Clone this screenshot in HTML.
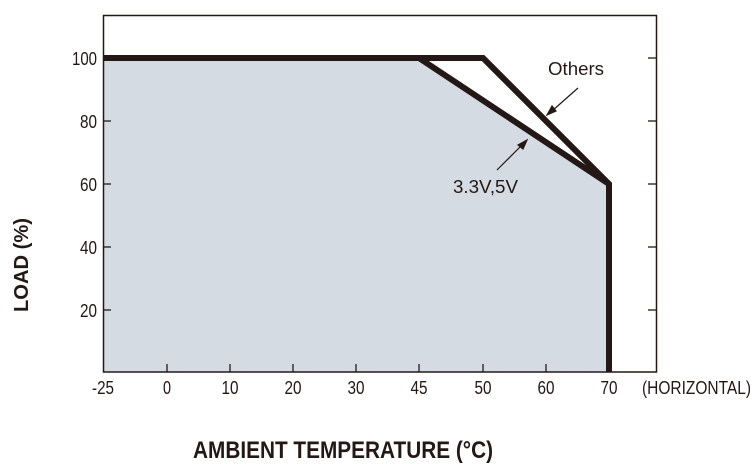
<!DOCTYPE html>
<html><head><style>body{margin:0;background:#fff}svg{display:block}</style></head>
<body>
<svg width="755" height="464" viewBox="0 0 755 464" xmlns="http://www.w3.org/2000/svg" font-family="Liberation Sans, Arial, sans-serif">
<polygon points="103,58 419,58 609,184 609,372 103,372" fill="#d4dbe3"/>
<rect x="103.5" y="15.5" width="553" height="356.5" fill="none" stroke="#231815" stroke-width="1.5"/>
<g stroke="#231815" stroke-width="1.3">
<line x1="103" y1="121" x2="111" y2="121"/><line x1="103" y1="184" x2="111" y2="184"/><line x1="103" y1="247" x2="111" y2="247"/><line x1="103" y1="310" x2="111" y2="310"/>
<line x1="648" y1="58" x2="657" y2="58"/><line x1="648" y1="121" x2="657" y2="121"/><line x1="648" y1="184" x2="657" y2="184"/><line x1="648" y1="247" x2="657" y2="247"/><line x1="648" y1="310" x2="657" y2="310"/>
<line x1="167" y1="364" x2="167" y2="372"/><line x1="230" y1="364" x2="230" y2="372"/><line x1="293" y1="364" x2="293" y2="372"/><line x1="356" y1="364" x2="356" y2="372"/><line x1="419" y1="364" x2="419" y2="372"/><line x1="483" y1="364" x2="483" y2="372"/><line x1="546" y1="364" x2="546" y2="372"/>
</g>
<polyline points="103,58 483,58 609,184 609,372" fill="none" stroke="#231815" stroke-width="6" stroke-linejoin="miter"/>
<polyline points="103,58 419,58 609,184" fill="none" stroke="#231815" stroke-width="6"/>
<g stroke="#231815" stroke-width="1.2" fill="#231815">
<line x1="578" y1="88" x2="552" y2="111"/><polygon points="547,115 552,106 556,111"/>
<line x1="497" y1="170" x2="522" y2="145"/><polygon points="527,140 523,149 518,145"/>
</g>
<g font-size="18" fill="#231815" lengthAdjust="spacingAndGlyphs">
<text x="548" y="75" textLength="56" lengthAdjust="spacingAndGlyphs">Others</text>
<text x="453" y="193" textLength="65" lengthAdjust="spacingAndGlyphs">3.3V,5V</text>
<g text-anchor="end"><text x="97" y="65" textLength="25" lengthAdjust="spacingAndGlyphs">100</text><text x="97" y="128" textLength="17" lengthAdjust="spacingAndGlyphs">80</text><text x="97" y="191" textLength="17" lengthAdjust="spacingAndGlyphs">60</text><text x="97" y="254" textLength="17" lengthAdjust="spacingAndGlyphs">40</text><text x="97" y="317" textLength="17" lengthAdjust="spacingAndGlyphs">20</text></g>
<g text-anchor="middle"><text x="103" y="394" textLength="22" lengthAdjust="spacingAndGlyphs">-25</text><text x="167" y="394" textLength="8" lengthAdjust="spacingAndGlyphs">0</text><text x="230" y="394" textLength="17" lengthAdjust="spacingAndGlyphs">10</text><text x="293" y="394" textLength="17" lengthAdjust="spacingAndGlyphs">20</text><text x="356" y="394" textLength="17" lengthAdjust="spacingAndGlyphs">30</text><text x="419" y="394" textLength="17" lengthAdjust="spacingAndGlyphs">45</text><text x="483" y="394" textLength="17" lengthAdjust="spacingAndGlyphs">50</text><text x="546" y="394" textLength="17" lengthAdjust="spacingAndGlyphs">60</text><text x="609" y="394" textLength="17" lengthAdjust="spacingAndGlyphs">70</text></g>
<text x="642" y="394" textLength="109" lengthAdjust="spacingAndGlyphs">(HORIZONTAL)</text>
</g>
<text x="193" y="458" font-size="24" font-weight="bold" fill="#231815" textLength="300" lengthAdjust="spacingAndGlyphs">AMBIENT TEMPERATURE (°C)</text>
<text transform="translate(28,265) rotate(-90)" text-anchor="middle" font-size="20" font-weight="bold" fill="#231815" textLength="94" lengthAdjust="spacingAndGlyphs">LOAD (%)</text>
</svg>
</body></html>
